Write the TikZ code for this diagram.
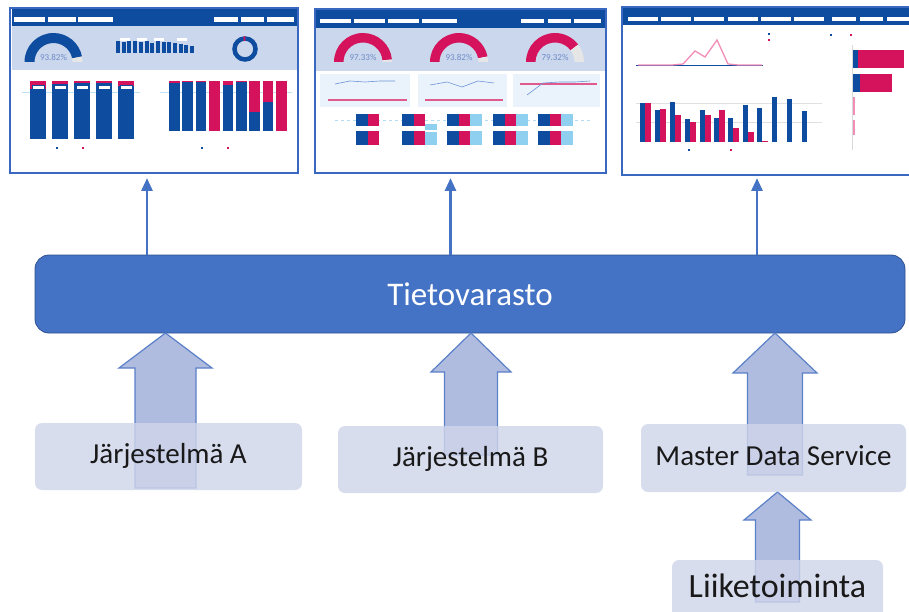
\documentclass[tikz,border=0pt]{standalone}
\usepackage{fontspec}
\setmainfont{Carlito}
\usetikzlibrary{arrows.meta,calc}
\definecolor{tvfill}{HTML}{4472C4}
\definecolor{tvborder}{HTML}{2F528F}
\definecolor{arrfill}{HTML}{AFBCDF}
\definecolor{arrdraw}{HTML}{5A80C8}
\definecolor{boxfill}{HTML}{CFD5EA}
\definecolor{pbinavy}{HTML}{0D4C9E}
\definecolor{pbipink}{HTML}{D4135C}
\definecolor{pbilpink}{HTML}{F28DB8}
\definecolor{pbiband}{HTML}{CAD7EC}
\definecolor{pbiframe}{HTML}{3A67C0}
\definecolor{pbilight}{HTML}{EAF3FB}
\definecolor{pbicyan}{HTML}{8FD0F0}
\definecolor{pbigrey}{HTML}{E6E6E6}
\definecolor{pbitext}{HTML}{6F8CC8}
\definecolor{pbiline}{HTML}{6D93D6}
\newcommand{\gseg}[7]{%
  \fill[#7] ($(#1,#2)+(#5:#3)$) arc[start angle=#5, end angle=#6, radius=#3]
    -- ($(#1,#2)+(#6:#4)$) arc[start angle=#6, end angle=#5, radius=#4] -- cycle;}
\newcommand{\blockarr}[6]{%
  \draw[blockarrow] ({#1-#6},#4) -- ({#1-#6},#3) -- ({#1-#5},#3) -- (#1,#2)
    -- ({#1+#5},#3) -- ({#1+#6},#3) -- ({#1+#6},#4) -- cycle;}
\begin{document}
\begin{tikzpicture}[x=1pt,y=-1pt,
  tvbox/.style={draw=tvborder, line width=0.8pt, fill=tvfill, rounded corners=14pt,
    text=white, font=\fontsize{33}{33}\selectfont, text height=23pt, text depth=0pt},
  srcbox/.style={fill=boxfill, fill opacity=0.82, text opacity=1, rounded corners=7pt,
    font=\fontsize{29}{29}\selectfont, text=black!90, text height=20pt, text depth=6pt, inner sep=0pt},
  blockarrow/.style={draw=arrdraw, line width=1.2pt, fill=arrfill, line join=miter},
  thinarr/.style={draw=tvfill, line width=2.8pt, -{Triangle[width=11pt,length=13pt]}},
  dashframe/.style={draw=pbiframe, line width=2.2pt, fill=white, inner sep=0pt},
  gaugetxt/.style={font=\fontsize{9}{9}\selectfont, text=pbitext, inner sep=0pt},
  filterbox/.style={fill=white},
]
\useasboundingbox (0,0) rectangle (909,612);
\clip (0,0) rectangle (909,612);

% ---------------- Dashboard 1 ----------------
\node[dashframe, minimum width=288pt, minimum height=165pt] (dash1) at (154,90.5) {};
\fill[pbinavy] (11.5,9.5) rectangle (296.5,26);
\foreach \a/\b in {14/45,48/76,78/113,214/238,241/264,267/294}
  \fill[filterbox] (\a,17) rectangle (\b,22.5);
\fill[pbiband] (11.5,26) rectangle (296.5,70);
\gseg{53.5}{62}{29}{19}{180}{349}{pbinavy}
\gseg{53.5}{62}{29}{19}{349}{360}{pbigrey}
\node[gaugetxt] (g1t) at (53.5,57) {93.82\%};
\foreach \i/\h in {0/12,1/11,2/12,3/12,4/11,5/12,6/10,7/12,8/11,9/11,10/10,11/9,12/8,13/7}
  \fill[pbinavy] ({116+\i*5.7},53) rectangle ++(4,-\h);
\foreach \i in {1,4,7,11}
  \fill[white] ({114+\i*5.7},38) rectangle ++(10,3);
\draw[pbinavy, line width=4.5pt] (245,49) circle[radius=10.5];
\draw[pbipink, line width=4.5pt] ($(245,49)+(262:10.5)$) arc[start angle=262, end angle=272, radius=10.5];
\draw[pbicyan!60, line width=0.5pt] (22,92) -- (140,92) (160,92) -- (292,92);
\foreach \x/\p in {30/8,52/3,74/2,96/2,118/5}{
  \fill[pbinavy] (\x,81) rectangle ++(16,58);
  \fill[pbipink] (\x,81) rectangle ++(16,\p);
  \draw[pbinavy, fill=white, line width=0.3pt] ({\x+2},85) rectangle ++(12,4);}
\foreach \i/\p in {0/2,1/1,2/1,3/50,4/4,5/1,6/31,7/21,8/50}{
  \fill[pbinavy] ({169+\i*13.4},81) rectangle ++(10.5,50);
  \fill[pbipink] ({169+\i*13.4},81) rectangle ++(10.5,\p);}
\fill[pbinavy] (56,147) rectangle ++(2,2);
\fill[pbipink] (82,147) rectangle ++(2,2);
\fill[pbinavy] (201,147) rectangle ++(2,2);
\fill[pbipink] (227,147) rectangle ++(2,2);

% ---------------- Dashboard 2 ----------------
\node[dashframe, minimum width=291pt, minimum height=164pt] (dash2) at (460.5,91) {};
\fill[pbinavy] (316,10) rectangle (605,28);
\foreach \a/\b in {320/351,354/385,388/419,422/457,521/544,548/571,574/601}
  \fill[filterbox] (\a,19) rectangle (\b,23.5);
\fill[pbiband] (316,28) rectangle (605,71);
\gseg{363}{62}{29}{19.5}{180}{355}{pbipink}
\gseg{363}{62}{29}{19.5}{355}{360}{pbigrey}
\gseg{459}{62}{29}{19.5}{180}{349}{pbipink}
\gseg{459}{62}{29}{19.5}{349}{360}{pbigrey}
\gseg{555}{62}{29}{19.5}{180}{323}{pbipink}
\gseg{555}{62}{29}{19.5}{323}{360}{pbigrey}
\node[gaugetxt] (g2t) at (363,57) {97.33\%};
\node[gaugetxt] (g3t) at (459,57) {93.82\%};
\node[gaugetxt] (g4t) at (555,57) {79.32\%};
\fill[pbilight] (320,74) rectangle (410,107);
\fill[pbilight] (418,74) rectangle (507,107);
\fill[pbilight] (513,74) rectangle (600,107);
\draw[pbipink!70, line width=1.2pt] (328,100) -- (407,100) (425,100) -- (503,100) (520,84) -- (597,84);
\draw[pbiline, line width=0.6pt] (335,84) -- (350,81) -- (365,82) -- (380,81) -- (395,81);
\draw[pbiline, line width=0.6pt] (430,85) -- (447,82) -- (462,87) -- (478,81) -- (494,83);
\draw[pbiline, line width=0.6pt] (527,95) -- (543,83) -- (560,82) -- (575,82) -- (590,81);
\draw[pbicyan!70, dashed, line width=0.4pt] (335,120) -- (590,120);
\foreach \x in {356,402,447,493,538}{
  \fill[pbinavy] (\x,114) rectangle ++(12,12);
  \fill[pbipink] ({\x+12},114) rectangle ++(11,12);
  \fill[pbinavy] (\x,131) rectangle ++(12,14);
  \fill[pbipink] ({\x+12},131) rectangle ++(11,14);}
\foreach \x in {470,516,561}{
  \fill[pbicyan] (\x,114) rectangle ++(12,12);
  \fill[pbicyan] (\x,131) rectangle ++(12,14);}
\fill[pbicyan] (425,124) rectangle ++(12,6);
\fill[pbicyan] (425,132) rectangle ++(12,13);

% ---------------- Dashboard 3 ----------------
\node[dashframe, minimum width=292pt, minimum height=168pt] (dash3) at (768,91) {};
\fill[pbinavy] (623,8) rectangle (913,25);
\foreach \a/\b in {628/658,661/691,694/724,728/758,761/791,794/824,832/856,860/883,887/913}
  \fill[filterbox] (\a,17) rectangle (\b,21.5);
\draw[pbinavy, line width=0.6pt] (636,65) -- (763,65);
\draw[pbilpink, line width=1.3pt] (638,65) -- (672,65) -- (683,64) -- (695,51) -- (705,57) -- (717,40) -- (728,64) -- (738,65) -- (762,65);
\fill[pbinavy] (768,33) rectangle ++(2,2);
\fill[pbipink] (768,39) rectangle ++(2,2);
\draw[black!12, line width=0.3pt] (636,103) -- (822,103) (636,122) -- (822,122);
\foreach \c/\n/\p in {645/103/103,660/110/109,675/102/115,690/119/122,705/110/115,719/118/110,733/118/128,748/105/132,762/108/141}{
  \fill[pbinavy] ({\c-5.5},\n) rectangle (\c,142);
  \fill[pbipink] (\c,\p) rectangle ({\c+5.5},142);}
\foreach \c/\n in {777/97,792/99,807/111}
  \fill[pbinavy] ({\c-5.5},\n) rectangle (\c,142);
\fill[pbinavy] (688,149) rectangle ++(2,2);
\fill[pbipink] (730,149) rectangle ++(2,2);
\draw[black!15, line width=0.4pt] (852,45) -- (852,150);
\fill[pbinavy] (853,50) rectangle (858,68);
\fill[pbipink] (858,50) rectangle (904,68);
\fill[pbinavy] (853,74) rectangle (860,92);
\fill[pbipink] (860,74) rectangle (892,92);
\fill[pbilpink] (853,97) rectangle (854.5,115);
\fill[pbilpink] (853,120) rectangle (854.5,135);
\fill[pbinavy] (830,34) rectangle ++(2,2);
\fill[pbipink] (850,34) rectangle ++(2,2);

% ---------------- Tietovarasto ----------------
\node[tvbox, minimum width=870pt, minimum height=78pt] (tv) at (470,294) {Tietovarasto};

\coordinate (up1) at (147,178);
\coordinate (up2) at (450.5,178);
\coordinate (up3) at (757,178);
\draw[thinarr] (up1 |- tv.north) -- (up1);
\draw[thinarr] (up2 |- tv.north) -- (up2);
\draw[thinarr] (up3 |- tv.north) -- (up3);

% ---------------- block arrows ----------------
\blockarr{165.5}{333}{368}{488}{46.5}{30.5}
\blockarr{471}{333}{372}{455}{40}{26.5}
\blockarr{775}{333}{373}{475}{42}{27.5}
\blockarr{777.5}{492}{520}{602}{33.5}{22}

% ---------------- source boxes ----------------
\node[srcbox, minimum width=267pt, minimum height=67pt] (sa) at (168.5,456.5) {Järjestelmä A};
\node[srcbox, minimum width=265pt, minimum height=67pt] (sb) at (470.5,459.5) {Järjestelmä B};
\node[srcbox, minimum width=265pt, minimum height=68pt] (mds) at (773.5,458) {Master Data Service};
\node[srcbox, minimum width=211pt, minimum height=60pt, font=\fontsize{34}{34}\selectfont,
  text height=24pt, text depth=10pt] (lt) at (777.5,590) {Liiketoiminta};
\end{tikzpicture}
\end{document}
